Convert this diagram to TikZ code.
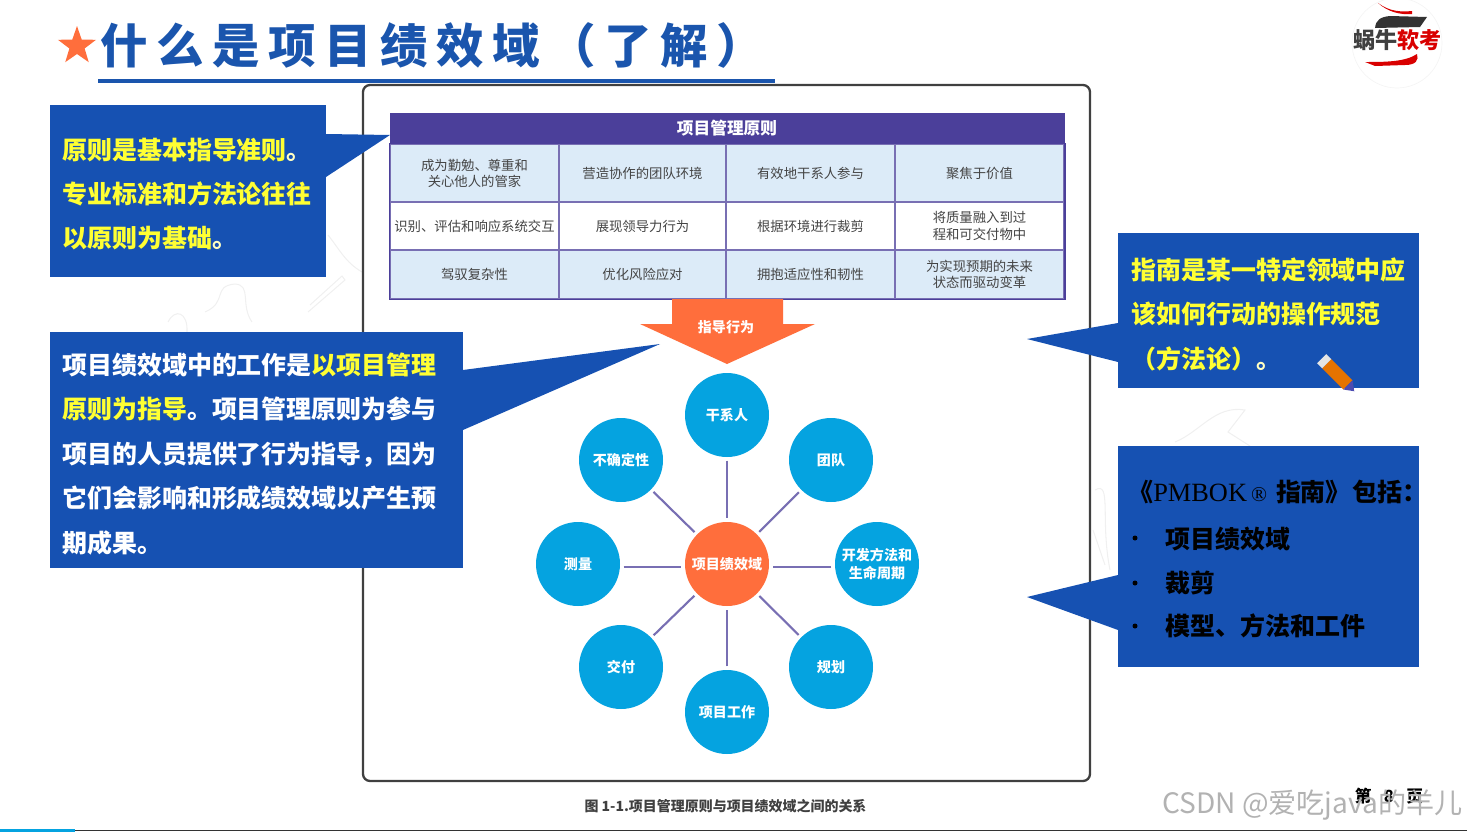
\documentclass[tikz,border=0pt]{standalone}
\usepackage{fontspec}
\setmainfont{Noto Sans CJK SC}
\newfontfamily\romanlatin{Liberation Serif}
\usepackage{xcolor}
\usetikzlibrary{shapes.geometric}
\definecolor{slideblue}{HTML}{1651B2}
\definecolor{titleblue}{HTML}{1A55AD}
\definecolor{tableviolet}{HTML}{4B3F9A}
\definecolor{cellblue}{HTML}{DCEBF8}
\definecolor{petalblue}{HTML}{05A3E0}
\definecolor{hubred}{HTML}{FF6E3C}
\definecolor{noteyellow}{HTML}{FFFF33}
\definecolor{cellgray}{HTML}{444444}

\begin{document}
\begin{tikzpicture}[x=0.02cm, y=-0.02cm,
  notebox/.style={fill=slideblue, draw=none, minimum width=#1, inner sep=0pt},
  notetext/.style={anchor=west, align=left, inner sep=0pt, text=noteyellow,
    font=\fontsize{14.2pt}{25.3pt}\selectfont\bfseries},
  blacktext/.style={anchor=west, inner sep=0pt, text=black,
    font=\fontsize{14.2pt}{17pt}\selectfont\bfseries},
  cell/.style={draw=tableviolet!75, line width=0.6pt, align=center, inner sep=0pt,
    text=cellgray, font=\fontsize{7.6pt}{9.2pt}\selectfont},
  petal/.style={circle, fill=petalblue, minimum size=84*0.02cm, inner sep=0pt,
    outer sep=2pt, align=center, text=white,
    font=\fontsize{8pt}{10pt}\selectfont\bfseries},
  hub/.style={petal, fill=hubred},
  spoke/.style={draw=tableviolet!75, line width=1.2pt},
  doodle/.style={draw=black!6, line width=0.6pt}
]
\useasboundingbox (0,0) rectangle (1467,832);

% Faint background marks
\draw[doodle] (168,322) .. controls (175,308) and (188,312) .. (187,332);
\draw[doodle] (205,312) .. controls (228,302) and (212,286) .. (235,284)
  .. controls (252,285) and (240,305) .. (252,322);
\draw[doodle] (308,312) -- (345,280) -- (342,276) -- (310,305);
\draw[doodle] (328,235) .. controls (340,250) and (345,262) .. (362,272);
\draw[doodle] (1175,442) .. controls (1200,432) and (1215,405) .. (1245,410)
  -- (1228,432) -- (1250,446);
\draw[doodle] (1095,490) .. controls (1112,480) and (1100,520) .. (1110,570);
\draw[doodle] (1093,530) -- (1105,565);

% Title
\node[star, star points=5, star point ratio=2.5, fill=hubred, inner sep=0pt,
  minimum size=40*0.02cm] (titlestar) at (77,46) {};
\node[anchor=west, inner sep=0pt, text=titleblue,
  font=\fontsize{27pt}{31pt}\selectfont\bfseries\addfontfeature{LetterSpace=18}]
  (titletext) at (100,45) {什么是项目绩效域（了解）};
\coordinate (rulestart) at (98,81);
\coordinate (ruleend) at (775,81);
\draw[titleblue, line width=2.2pt] (rulestart) -- (ruleend);

% Logo
\node[circle, fill=white, draw=black!4, minimum size=90*0.02cm] (logo) at (1397,43) {};
\fill[red!85!black] (1378,3) .. controls (1390,12) and (1402,12) .. (1412,11)
  -- (1412,14) .. controls (1400,15) and (1388,12) .. (1378,3);
\fill[black!80] (1375,28) .. controls (1376,20) and (1380,17) .. (1390,16)
  -- (1427,17) -- (1420,27) -- cycle;
\fill[red!85!black] (1365,62) .. controls (1385,62) and (1405,62) .. (1417,54)
  .. controls (1419,60) and (1416,65) .. (1405,65) -- (1375,66) -- cycle;
\node[inner sep=0pt, font=\fontsize{12.6pt}{14pt}\selectfont\bfseries] (logotext) at (1397.5,40)
  {\textcolor{black!75}{蜗牛}\textcolor{red!85!black}{软考}};

% Frame
\node[draw=black!75, line width=1.3pt, rounded corners=4pt, fill=white,
  minimum width=727*0.02cm, minimum height=696*0.02cm] (frame) at (726.5,433) {};

% Table
\node[fill=tableviolet, draw=tableviolet, inner sep=0pt, minimum width=674*0.02cm,
  minimum height=31*0.02cm, text=white, font=\fontsize{9.5pt}{11pt}\selectfont\bfseries]
  (tablehead) at (727,128.5) {项目管理原则};

% First row
\node[cell, fill=cellblue, minimum width=169*0.02cm, minimum height=58*0.02cm]
  (c11) at (474.5,173) {成为勤勉、尊重和\\关心他人的管家};
\node[cell, fill=cellblue, minimum width=167*0.02cm, minimum height=58*0.02cm]
  (c12) at (642.5,173) {营造协作的团队环境};
\node[cell, fill=cellblue, minimum width=169*0.02cm, minimum height=58*0.02cm]
  (c13) at (810.5,173) {有效地干系人参与};
\node[cell, fill=cellblue, minimum width=169*0.02cm, minimum height=58*0.02cm]
  (c14) at (979.5,173) {聚焦于价值};

% Second row
\node[cell, fill=white, minimum width=169*0.02cm, minimum height=48*0.02cm]
  (c21) at (474.5,226) {识别、评估和响应系统交互};
\node[cell, fill=white, minimum width=167*0.02cm, minimum height=48*0.02cm]
  (c22) at (642.5,226) {展现领导力行为};
\node[cell, fill=white, minimum width=169*0.02cm, minimum height=48*0.02cm]
  (c23) at (810.5,226) {根据环境进行裁剪};
\node[cell, fill=white, minimum width=169*0.02cm, minimum height=48*0.02cm]
  (c24) at (979.5,226) {将质量融入到过\\程和可交付物中};

% Third row
\node[cell, fill=cellblue, minimum width=169*0.02cm, minimum height=49*0.02cm]
  (c31) at (474.5,274.5) {驾驭复杂性};
\node[cell, fill=cellblue, minimum width=167*0.02cm, minimum height=49*0.02cm]
  (c32) at (642.5,274.5) {优化风险应对};
\node[cell, fill=cellblue, minimum width=169*0.02cm, minimum height=49*0.02cm]
  (c33) at (810.5,274.5) {拥抱适应性和韧性};
\node[cell, fill=cellblue, minimum width=169*0.02cm, minimum height=49*0.02cm]
  (c34) at (979.5,274.5) {为实现预期的未来\\状态而驱动变革};
\draw[tableviolet, line width=1.1pt] (c11.north west) rectangle (c34.south east);

% Arrow from table to circles
\fill[hubred] (672,299) -- (783,299) -- (783,324) -- (815,324) -- (727,364)
  -- (640,324) -- (672,324) -- cycle;
\node[inner sep=0pt, text=white, font=\fontsize{8pt}{10pt}\selectfont\bfseries]
  (guidetext) at (726,327) {指导行为};

% Circles
\node[hub] (domains) at (727,564) {\raisebox{-3.2pt}{项目绩效域}};
\node[petal] (p1) at (727,415) {干系人};
\node[petal] (p2) at (831,460) {团队};
\node[petal] (p3) at (877,564) {开发方法和\\生命周期};
\node[petal] (p4) at (831,667) {规划};
\node[petal] (p5) at (727,712) {项目工作};
\node[petal] (p6) at (621,667) {交付};
\node[petal] (p7) at (578,564) {测量};
\node[petal] (p8) at (621,460) {不确定性};

% Spokes
\coordinate (hubaxis) at (727,567);
\draw[spoke] (p1) -- (domains);
\draw[spoke] (p2) -- (domains);
\draw[spoke] (p3.west |- hubaxis) -- (domains.east |- hubaxis);
\draw[spoke] (p4) -- (domains);
\draw[spoke] (p5) -- (domains);
\draw[spoke] (p6) -- (domains);
\draw[spoke] (p7.east |- hubaxis) -- (domains.west |- hubaxis);
\draw[spoke] (p8) -- (domains);

% Caption
\node[inner sep=0pt, text=black!75, font=\fontsize{7.95pt}{9pt}\selectfont\bfseries]
  (caption) at (725.5,806) {图 1-1.项目管理原则与项目绩效域之间的关系};

% Note boxes
\node[notebox=276*0.02cm, minimum height=172*0.02cm] (note1) at (188,191) {};
\coordinate (tip1) at (390,135);
\fill[slideblue] (326,134) -- (tip1) -- (326,177) -- cycle;
\node[notetext] (text1) at (62,194)
  {原则是基本指导准则{\color{white!70!noteyellow}。}\\专业标准和方法论往往\\以原则为基础{\color{white!70!noteyellow}。}};

\node[notebox=413*0.02cm, minimum height=236*0.02cm] (note2) at (256.5,450) {};
\coordinate (tip2) at (660,344);
\fill[slideblue] (463,370) -- (tip2) -- (463,430) -- cycle;
\node[notetext, text=white] (text2) at (62,454)
  {项目绩效域中的工作是\textcolor{noteyellow}{以项目管理}\\
   \textcolor{noteyellow}{原则为指导}。项目管理原则为参与\\
   项目的人员提供了行为指导，因为\\
   它们会影响和形成绩效域以产生预\\
   期成果。};

\node[notebox=301*0.02cm, minimum height=155*0.02cm] (note3) at (1268.5,310.5) {};
\coordinate (tip3) at (1027,339);
\fill[slideblue] (1118,323) -- (tip3) -- (1118,362) -- cycle;
\node[notetext] (text3) at (1131,314)
  {指南是某一特定领域中应\\该如何行动的操作规范\\（方法论）{\color{white!70!noteyellow}。}};

% Pencil
\begin{scope}[shift={(1338,375)}, rotate=-45]
  \fill[orange!90!black] (-16,-6.5) rectangle (14,6.5);
  \fill[black!10] (-23,-6.5) rectangle (-16,6.5);
  \fill[blue!40!gray] (14,-6.5) -- (23,0) -- (14,6.5) -- cycle;
\end{scope}

\node[notebox=301*0.02cm, minimum height=221*0.02cm] (note4) at (1268.5,556.5) {};
\coordinate (tip4) at (1027,597);
\fill[slideblue] (1118,575) -- (tip4) -- (1118,630) -- cycle;
\node[blacktext] (head4) at (1128,492)
  {《{\romanlatin\mdseries\fontsize{15pt}{17pt}\selectfont PMBOK}\,{\romanlatin\mdseries\fontsize{12pt}{14pt}\selectfont ®}\hspace{5pt}指南》\hspace{1pt}包括：};
\node[blacktext] (item1) at (1165,539) {项目绩效域};
\node[blacktext] (item2) at (1165,583) {裁剪};
\node[blacktext] (item3) at (1165,626) {模型、方法和工件};
\fill (1135,538) circle (2.5) (1135,583) circle (2.5) (1135,626) circle (2.5);

% Footer
\node[inner sep=0pt, text=black, font=\fontsize{9.5pt}{10pt}\selectfont\bfseries]
  (pagenum) at (1389,796) {第\hspace{7pt}8\hspace{7pt}页};
\node[anchor=east, inner sep=0pt, text=black!30, font=\fontsize{16pt}{18pt}\selectfont]
  (mark) at (1463,805) {CSDN @爱吃java的羊儿};
\coordinate (barstart) at (0,830.5);
\coordinate (barmid) at (75,830.5);
\coordinate (barend) at (1467,830.5);
\draw[black!80, line width=1pt] (barmid) -- (barend);
\draw[petalblue, line width=2pt] (barstart) -- (barmid);
\end{tikzpicture}
\end{document}
